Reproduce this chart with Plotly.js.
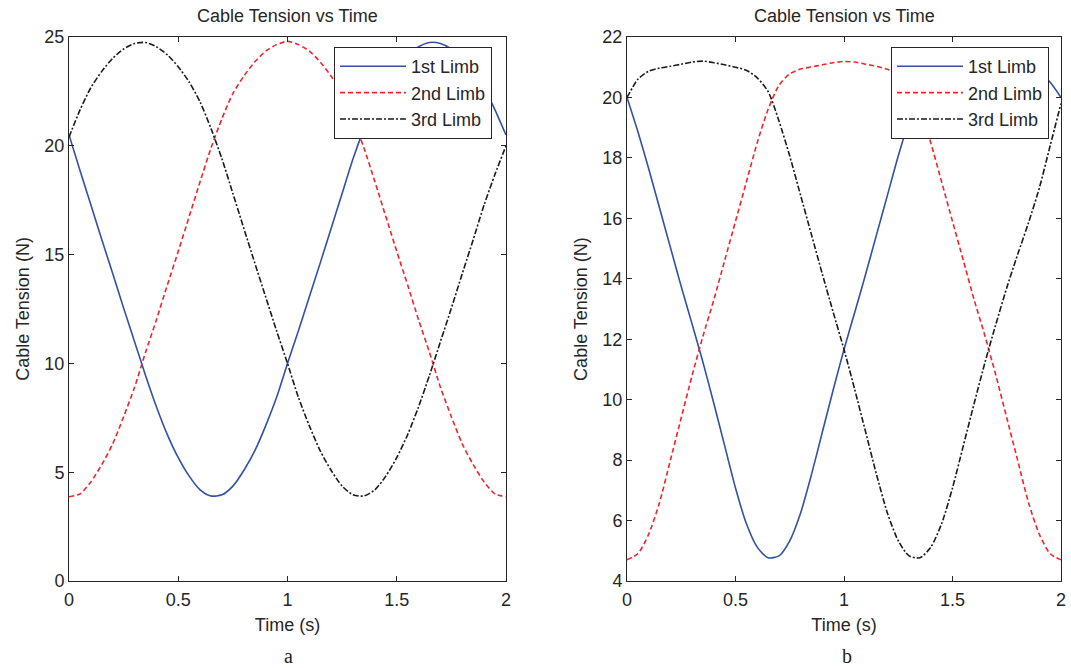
<!DOCTYPE html>
<html>
<head>
<meta charset="utf-8">
<script src="https://cdn.plot.ly/plotly-3.0.1.min.js"></script>
<style>html,body{margin:0;padding:0;background:#fff;}#chart{width:1071px;height:668px;}</style>
</head>
<body>
<div id="chart"></div>
<script>
// Time samples (s)
var time = [0,0.05,0.1,0.15,0.2,0.25,0.3,0.35,0.4,0.45,0.5,0.55,0.6,0.65,0.7,0.75,0.8,0.85,0.9,0.95,1.0,
            1.05,1.1,1.15,1.2,1.25,1.3,1.35,1.4,1.45,1.5,1.55,1.6,1.65,1.7,1.75,1.8,1.85,1.9,1.95,2.0];

// Panel a: cable tension (N)
var a1stLimb = [20.5,18.88,17.29,15.69,14.13,12.54,11.0,9.46,8.01,6.73,5.67,4.82,4.19,3.91,3.96,4.36,5.08,5.98,7.13,8.44,10.0,
                11.5,13.06,14.62,16.21,17.81,19.4,20.79,22.01,22.93,23.63,24.18,24.55,24.75,24.7,24.45,24.02,23.42,22.67,21.64,20.5];
var a2ndLimb = [3.87,4.0,4.55,5.35,6.3,7.55,8.9,10.5,12.0,13.6,15.15,16.75,18.35,19.9,21.25,22.4,23.2,23.85,24.35,24.65,24.8,
                24.65,24.35,23.85,23.2,22.4,21.25,19.9,18.35,16.75,15.15,13.6,12.0,10.5,8.9,7.55,6.3,5.35,4.55,4.0,3.87];
var a3rdLimb = [20.4,21.64,22.67,23.42,24.02,24.45,24.7,24.75,24.55,24.18,23.63,22.93,22.01,20.79,19.4,17.81,16.21,14.62,13.06,11.5,10.0,
                8.44,7.13,5.98,5.08,4.36,3.96,3.91,4.19,4.82,5.67,6.73,8.01,9.46,11.0,12.54,14.13,15.69,17.29,18.7,20.0];

// Panel b: cable tension (N)
var b1stLimb = [20.0,18.87,17.64,16.34,15.04,13.74,12.5,11.24,9.88,8.48,7.08,5.9,5.12,4.77,4.83,5.33,6.25,7.52,8.92,10.32,11.66,
                12.9,14.16,15.46,16.76,18.06,19.23,20.2,20.7,20.9,20.99,21.05,21.12,21.18,21.18,21.13,21.05,20.97,20.85,20.5,20.0];
var b2ndLimb = [4.7,4.9,5.55,6.6,8.0,9.4,10.8,12.1,13.3,14.6,15.9,17.2,18.5,19.6,20.4,20.78,20.94,21.01,21.08,21.15,21.19,
                21.17,21.1,21.03,20.93,20.75,20.35,19.6,18.5,17.2,15.9,14.6,13.3,12.1,10.8,9.4,8.0,6.6,5.55,4.9,4.7];
var b3rdLimb = [20.0,20.6,20.87,20.97,21.03,21.1,21.17,21.2,21.15,21.08,21.0,20.9,20.65,20.2,19.23,18.06,16.76,15.46,14.16,12.9,11.66,
                10.32,8.92,7.52,6.25,5.33,4.83,4.77,5.12,5.9,7.08,8.48,9.88,11.24,12.5,13.7,14.8,15.85,17.0,18.4,19.8];

var seriesNames = ["1st Limb","2nd Limb","3rd Limb"];
var xTicks = [0,0.5,1,1.5,2];
var xTickText = ["0","0.5","1","1.5","2"];

var colors = ["#3050aa","#f0252b","#1a1a1a"];
var dashes = ["solid","5px,3px","6px,2px,2px,2px"];
var W = 1071, H = 668;
var FONT = "Liberation Sans, Arial, Helvetica, sans-serif";
var AX = "#262626";
var FS = 18;

function mk(y, i, xa, ya, lg) {
  return {x: time, y: y, type: "scatter", mode: "lines", name: seriesNames[i],
          xaxis: xa, yaxis: ya, legend: lg, legendgroup: lg + i, showlegend: true,
          line: {color: colors[i], width: 1.6, dash: dashes[i], shape: "spline", smoothing: 0.7}};
}
var data = [
  mk(a1stLimb,0,"x","y","legend"), mk(a2ndLimb,1,"x","y","legend"), mk(a3rdLimb,2,"x","y","legend"),
  mk(b1stLimb,0,"x2","y2","legend2"), mk(b2ndLimb,1,"x2","y2","legend2"), mk(b3rdLimb,2,"x2","y2","legend2")
];

var yTop = 1 - 37/H, yBot = 1 - 581/H;
function xax(dom) {
  return {domain: dom, range: [0,2], tickvals: xTicks, ticktext: xTickText, ticks: "inside", ticklen: 5,
          tickcolor: AX, showline: true, linecolor: AX, linewidth: 1, mirror: "ticks", showgrid: false,
          zeroline: false, ticklabelstandoff: 2, tickfont: {size: FS, color: AX, family: FONT},
          title: {text: "Time (s)", font: {size: FS, color: AX, family: FONT}, standoff: 9}};
}
function yax(range, dtick, anchor) {
  return {domain: [yBot, yTop], range: range, dtick: dtick, tick0: 0, ticks: "inside", ticklen: 5,
          tickcolor: AX, showline: true, linecolor: AX, linewidth: 1, mirror: "ticks", showgrid: false,
          zeroline: false, anchor: anchor, tickfont: {size: FS, color: AX, family: FONT},
          title: {text: "Cable Tension (N)", font: {size: FS, color: AX, family: FONT}, standoff: 10}};
}
function leg(x) {
  return {x: x, y: 1 - 47/H, xanchor: "left", yanchor: "top", xref: "paper", yref: "paper",
          bgcolor: "#ffffff", bordercolor: AX, borderwidth: 1, traceorder: "grouped", tracegroupgap: 0,
          itemwidth: 66, font: {size: FS, color: AX, family: FONT}};
}
var xa1 = xax([69/W, 506/W]); xa1.anchor = "y";
var xa2 = xax([627/W, 1061/W]); xa2.anchor = "y2";
function ann(text, xpx, ypx, font) {
  return {text: text, x: xpx/W, y: 1 - ypx/H, xref: "paper", yref: "paper", showarrow: false,
          xanchor: "center", yanchor: "middle", font: font};
}
var titleFont = {size: FS, color: AX, family: FONT};
var capFont = {size: 20, color: "#222", family: "Liberation Serif, Times New Roman, serif"};
var layout = {
  width: W, height: H, margin: {l: 0, r: 0, t: 0, b: 0},
  paper_bgcolor: "#ffffff", plot_bgcolor: "#ffffff",
  font: {family: FONT, color: AX},
  xaxis: xa1, yaxis: yax([0,25], 5, "x"),
  xaxis2: xa2, yaxis2: yax([4,22], 2, "x2"),
  legend: leg(334/W), legend2: leg(891/W),
  annotations: [
    ann("Cable Tension vs Time", 287.5, 16, titleFont),
    ann("Cable Tension vs Time", 844, 16, titleFont),
    ann("a", 288, 656, capFont),
    ann("b", 847, 656, capFont)
  ]
};
Plotly.newPlot("chart", data, layout, {displayModeBar: false, staticPlot: true});
</script>
</body>
</html>
